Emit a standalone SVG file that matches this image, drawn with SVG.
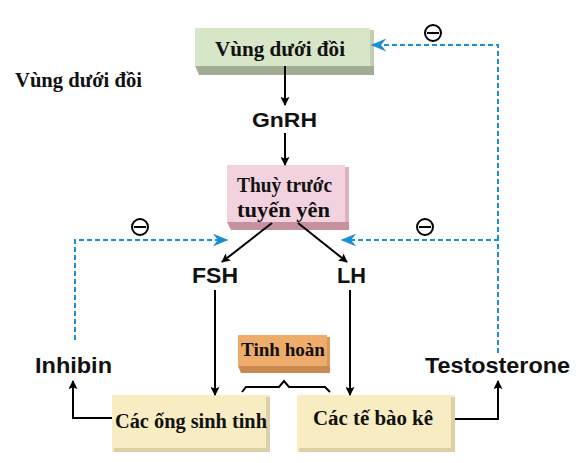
<svg xmlns="http://www.w3.org/2000/svg" width="586" height="463" viewBox="0 0 586 463">
<defs>
<marker id="ab" viewBox="0 0 10 10" refX="9" refY="5" markerWidth="9" markerHeight="9" markerUnits="userSpaceOnUse" orient="auto"><path d="M0,0 L10,5 L0,10 L2,5 Z" fill="#000"/></marker>
<marker id="ablue" viewBox="0 0 12 10" refX="11" refY="5" markerWidth="17" markerHeight="13" markerUnits="userSpaceOnUse" orient="auto"><path d="M0,0 L12,5 L0,10 L4,5 Z" fill="#1b8fd6"/></marker>
</defs>
<style>
.ser{font-family:"Liberation Serif","Times New Roman",serif;font-weight:bold;fill:#111}
.san{font-family:"Liberation Sans",Arial,sans-serif;font-weight:bold;fill:#111}
.blk{stroke:#000;stroke-width:2;fill:none}
.ds{stroke:#1b8fd6;stroke-width:2;fill:none;stroke-dasharray:5,3}
.neg{fill:none;stroke:#000;stroke-width:2}
</style>
<rect width="586" height="463" fill="#fff"/>
<text class="ser" x="15" y="87" font-size="20" textLength="127" lengthAdjust="spacingAndGlyphs">Vùng dưới đồi</text>

<g id="hypothalamus">
<rect x="195" y="28" width="175" height="38" fill="#d7e6c6"/>
<polygon points="195,66 370,66 374,62 374,75 199,75" fill="#a3ad94"/>
<rect x="370" y="30" width="4" height="36" fill="#c2cfb2"/>
<text class="ser" x="215" y="56" font-size="21" textLength="130" lengthAdjust="spacingAndGlyphs">Vùng dưới đồi</text>
</g>

<g id="gnrh"><text class="san" x="252" y="127" font-size="21" textLength="65" lengthAdjust="spacingAndGlyphs">GnRH</text></g>

<g id="pituitary">
<rect x="227" y="165" width="118" height="57" fill="#f2d2de"/>
<polygon points="227,222 345,222 349,218 349,230 231,230" fill="#c5919f"/>
<rect x="345" y="167" width="4" height="55" fill="#ddb1bf"/>
<text class="ser" x="237" y="192" font-size="20" textLength="95" lengthAdjust="spacingAndGlyphs">Thuỳ trước</text>
<text class="ser" x="237" y="217" font-size="20" textLength="93" lengthAdjust="spacingAndGlyphs">tuyến yên</text>
</g>

<g id="fsh"><text class="san" x="192" y="283" font-size="22" textLength="46" lengthAdjust="spacingAndGlyphs">FSH</text></g>
<g id="lh"><text class="san" x="337" y="283" font-size="22" textLength="29" lengthAdjust="spacingAndGlyphs">LH</text></g>

<g id="testis">
<rect x="238" y="335" width="89" height="31" fill="#eeac6c"/>
<polygon points="238,366 327,366 330,363 330,373 241,373" fill="#c98a50"/>
<rect x="327" y="337" width="3" height="29" fill="#d89a5c"/>
<text class="ser" x="241" y="356" font-size="19" textLength="84" lengthAdjust="spacingAndGlyphs">Tinh hoàn</text>
<path d="M242,392 L246,387 L279,387 L284,381 L289,387 L325,387 L330,392" fill="none" stroke="#000" stroke-width="2"/>
</g>

<g id="tubules">
<rect x="112" y="395" width="158" height="57" fill="#f7ecc2"/>
<rect x="266" y="397" width="4" height="55" fill="#ddd0a6"/>
<rect x="114" y="448" width="156" height="4" fill="#ddd0a6"/>
<text class="ser" x="115" y="428" font-size="20" textLength="152" lengthAdjust="spacingAndGlyphs">Các ống sinh tinh</text>
</g>

<g id="leydig">
<rect x="297" y="395" width="158" height="57" fill="#f7ecc2"/>
<rect x="451" y="397" width="4" height="55" fill="#ddd0a6"/>
<rect x="299" y="448" width="156" height="4" fill="#ddd0a6"/>
<text class="ser" x="313" y="425" font-size="20" textLength="120" lengthAdjust="spacingAndGlyphs">Các tế bào kê</text>
</g>

<g id="inhibin"><text class="san" x="35" y="373" font-size="22" textLength="77" lengthAdjust="spacingAndGlyphs">Inhibin</text></g>
<g id="testosterone"><text class="san" x="425" y="373" font-size="22" textLength="145" lengthAdjust="spacingAndGlyphs">Testosterone</text></g>

<g id="connectors">
<line class="blk" x1="285" y1="66" x2="285" y2="105" marker-end="url(#ab)"/>
<line class="blk" x1="285" y1="133" x2="285" y2="165" marker-end="url(#ab)"/>
<line class="blk" x1="272" y1="223" x2="222" y2="262" marker-end="url(#ab)"/>
<line class="blk" x1="298" y1="223" x2="347" y2="262" marker-end="url(#ab)"/>
<line class="blk" x1="215" y1="290" x2="215" y2="395" stroke-width="1.5" marker-end="url(#ab)"/>
<line class="blk" x1="350" y1="290" x2="350" y2="395" stroke-width="1.5" marker-end="url(#ab)"/>
<polyline class="blk" points="112,418 73,418 73,381" marker-end="url(#ab)"/>
<polyline class="blk" points="455,419 498,419 498,381" marker-end="url(#ab)"/>
<polyline class="ds" points="75,340 75,240 227,240" marker-end="url(#ablue)"/>
<polyline class="ds" points="498,353 498,240 342,240" marker-end="url(#ablue)"/>
<polyline class="ds" points="498,240 498,45 372,45" marker-end="url(#ablue)"/>
<g class="neg">
<circle cx="140" cy="227" r="8"/><line x1="134" y1="227" x2="146" y2="227"/>
<circle cx="425" cy="227" r="8"/><line x1="419" y1="227" x2="431" y2="227"/>
<circle cx="433" cy="33" r="8"/><line x1="427" y1="33" x2="439" y2="33"/>
</g>
</g>
</svg>
